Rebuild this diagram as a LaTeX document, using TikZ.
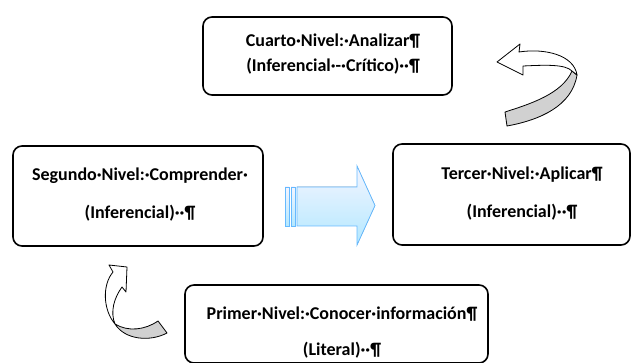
\documentclass[tikz,border=0pt]{standalone}
\usepackage{fontspec}
\setmainfont{Carlito}
\usepackage{tikz}
\tikzset{
    %Define style for the level boxes
    nivel/.style={
           rectangle,
           rounded corners=9pt,
           draw=black, line width=1.6pt,
           inner sep=0pt,
           },
    %Define style for the texts in the boxes
    texto/.style={
           inner sep=0pt,
           font=\bfseries\fontsize{18}{#1}\selectfont,
           align=center,
           },
    % Define style for the curved ribbon arrows
    cinta/.style={
           draw=black, line width=0.8pt,
           line join=round,
           },
    cintagris/.style={
           cinta,
           fill=black!18,
           },
    % Define style for the block arrow
    bloque/.style={
           draw=blue!45!cyan!60!white, line width=0.8pt,
           top color=blue!4!white, bottom color=blue!30!cyan!30!white,
           },
}

\begin{document}
\begin{tikzpicture}[x=1pt,y=-1pt]
\useasboundingbox (0,0) rectangle (631,363);

 %boxes
\node[nivel, minimum width=249pt, minimum height=78pt](cuarto) at (327.5,56) {};
\node[nivel, minimum width=250pt, minimum height=100pt](segundo) at (138,196) {};
\node[nivel, minimum width=237pt, minimum height=101pt](tercer) at (511.5,194.5) {};
\node[nivel, minimum width=303pt, minimum height=78pt](primer) at (336.5,324) {};

 %texts
\node[texto=25pt](cuartotexto) at (333,54)
    {Cuarto·Nivel:·Analizar¶\\(Inferencial·-·Crítico)··¶};
\node[texto=38pt](segundotexto) at (140,195)
    {Segundo·Nivel:·Comprender·\\(Inferencial)··¶};
\node[texto=38pt](tercertexto) at (522,194)
    {Tercer·Nivel:·Aplicar¶\\(Inferencial)··¶};
\node[texto=36pt](primertexto) at (342,333)
    {Primer·Nivel:·Conocer·información¶\\(Literal)··¶};

 %block arrow from segundo to tercer
\filldraw[bloque] (285,187) rectangle ++(4,39);
\filldraw[bloque] (291,187) rectangle ++(4,39);
\filldraw[bloque] (297,187) -- (357,187) -- (357,166) -- (375,205.5)
    -- (357,245) -- (357,226) -- (297,226) -- cycle;

 %curved arrow up to cuarto
\filldraw[cintagris] (572,71) .. controls (562,94) and (530,104) .. (505,112)
    -- (507,126) .. controls (540,120) and (572,106) .. (577,75) -- cycle;
\filldraw[cinta, fill=white] (519,52) .. controls (545,48) and (574,55) .. (577,75)
    -- (572,71) .. controls (565,64) and (545,65) .. (523,66)
    -- (523,75) -- (497,62) -- (520,44) -- cycle;

 %curved arrow up to segundo
\filldraw[cintagris] (115,324) .. controls (125,340) and (150,342) .. (167,333)
    -- (158,321) .. controls (145,330) and (128,332) .. (115,324);
\filldraw[cinta, fill=white] (115,324) .. controls (103,310) and (102,285) .. (113,272)
    -- (109,265) -- (127,267) -- (126,292) -- (122,287)
    .. controls (114,298) and (110,312) .. (115,324);

\end{tikzpicture}
\end{document}
